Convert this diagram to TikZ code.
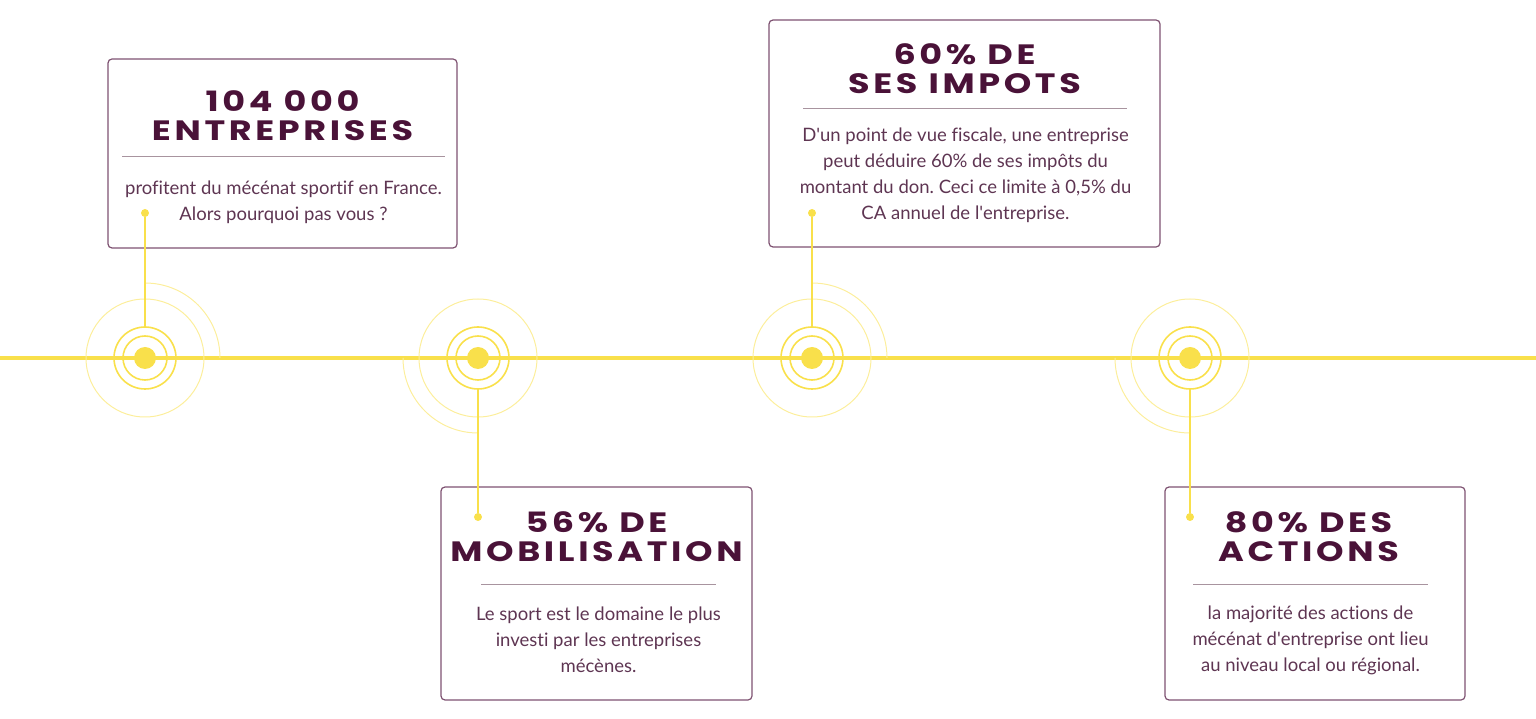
\documentclass[tikz,border=0pt]{standalone}
\usepackage{fontspec}
\setmainfont{Lato}[Ligatures={NoCommon}]
\newfontfamily\headfont[LetterSpace=13, FakeStretch=1.25]{Poppins}
\usetikzlibrary{calc}
\frenchspacing
\definecolor{sun}{HTML}{F9E04B}
\definecolor{plum}{HTML}{4A1238}
\definecolor{mauve}{HTML}{5E3552}
\definecolor{rulegrey}{HTML}{A8949F}
\definecolor{frame}{HTML}{7E5271}
\newcommand{\apos}{\textquotesingle}
\tikzset{
  infobox/.style={draw=frame, line width=1.2pt, rounded corners=4pt},
  headline/.style={text=plum, align=center, font=\headfont\bfseries\fontsize{28}{29}\selectfont},
  bodytext/.style={text=mauve, align=center, font=\fontsize{18.5}{26}\selectfont},
  core/.style={circle, fill=sun, minimum size=22pt, inner sep=0pt},
  ring/.style={circle, draw=sun, line width=1.6pt, inner sep=0pt},
  halo/.style={draw=sun!55!white, line width=1pt},
  pindot/.style={circle, fill=sun, minimum size=8pt, inner sep=0pt},
  link/.style={draw=sun, line width=1.3pt}
}
\begin{document}
\begin{tikzpicture}[x=1pt, y=1pt]
			%%%%% START %%%%%
			\useasboundingbox (0, 0) rectangle (1536, 718);
			
			\draw[sun, line width=4pt] (0, 360) -- (1536, 360);
			
			% marker 1
			\node[core] (m1) at (145, 360) {};
			\node[ring, minimum size=44pt] at (m1) {};
			\node[ring, minimum size=62pt] (r1) at (m1) {};
			\draw[halo] (m1) circle (59);
			\draw[halo] (145, 435) arc (90:0:75);
			
			% marker 2
			\node[core] (m2) at (478, 360) {};
			\node[ring, minimum size=44pt] at (m2) {};
			\node[ring, minimum size=62pt] (r2) at (m2) {};
			\draw[halo] (m2) circle (59);
			\draw[halo] (403, 360) arc (180:270:75);
			
			% marker 3
			\node[core] (m3) at (812, 360) {};
			\node[ring, minimum size=44pt] at (m3) {};
			\node[ring, minimum size=62pt] (r3) at (m3) {};
			\draw[halo] (m3) circle (59);
			\draw[halo] (812, 435) arc (90:0:75);
			
			% marker 4
			\node[core] (m4) at (1190, 360) {};
			\node[ring, minimum size=44pt] at (m4) {};
			\node[ring, minimum size=62pt] (r4) at (m4) {};
			\draw[halo] (m4) circle (59);
			\draw[halo] (1115, 360) arc (180:270:75);
			
			% box 1
			\node[infobox, minimum width=349pt, minimum height=189pt] (b1) at (282.5, 564.5) {};
			\node[headline] (h1) at (282.5, 602.5) {104 000\\ENTREPRISES};
			\draw[rulegrey, line width=1pt] (122, 561) -- (445, 561);
			\node[bodytext] (t1) at (283.5, 515.5) {profitent du mécénat sportif en France.\\Alors pourquoi pas vous ?};
			\node[pindot] (d1) at (145, 505) {};
			\draw[link] (d1) -- (r1.north);
			
			% box 2
			\node[infobox, minimum width=311pt, minimum height=213pt] (b2) at (596.5, 124.5) {};
			\node[headline] (h2) at (596.5, 181) {56\% DE\\MOBILISATION};
			\draw[rulegrey, line width=1pt] (481, 134) -- (716, 134);
			\node[bodytext] (t2) at (598.5, 78) {Le sport est le domaine le plus\\investi par les entreprises\\mécènes.};
			\node[pindot] (d2) at (478, 201) {};
			\draw[link] (d2) -- (r2.south);
			
			% box 3
			\node[infobox, minimum width=391pt, minimum height=227pt] (b3) at (964.5, 584.5) {};
			\node[headline] (h3) at (964.5, 649.5) {60\% DE\\SES IMPOTS};
			\draw[rulegrey, line width=1pt] (803, 609) -- (1127, 609);
			\node[bodytext] (t3) at (965.5, 542.5) {D\apos un point de vue fiscale, une entreprise\\peut déduire 60\% de ses impôts du\\montant du don. Ceci ce limite à 0,5\% du\\CA annuel de l\apos entreprise.};
			\node[pindot] (d3) at (812, 505) {};
			\draw[link] (d3) -- (r3.north);
			
			% box 4
			\node[infobox, minimum width=300pt, minimum height=213pt] (b4) at (1315, 124.5) {};
			\node[headline] (h4) at (1308.5, 181) {80\% DES\\ACTIONS};
			\draw[rulegrey, line width=1pt] (1193, 134) -- (1428, 134);
			\node[bodytext] (t4) at (1310.5, 78) {la majorité des actions de\\mécénat d\apos entreprise ont lieu\\au niveau local ou régional.};
			\node[pindot] (d4) at (1190, 201) {};
			\draw[link] (d4) -- (r4.south);
			
			%%%%% END %%%%%
\end{tikzpicture}
\end{document}
